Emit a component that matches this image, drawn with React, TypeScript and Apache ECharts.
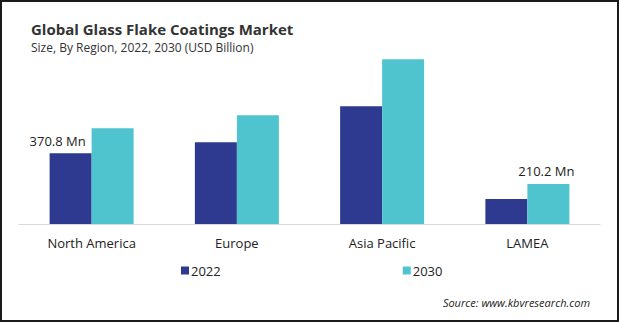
import React, { useEffect, useRef } from "react";
import * as echarts from "echarts";

const categories = ["North America", "Europe", "Asia Pacific", "LAMEA"];
const values2022 = [370.8, 429, 617, 131];
const values2030 = [502, 570, 863, 210.2];
const seriesNames = ["2022", "2030"];
const labelled2022 = [0];
const labelled2030 = [3];

const FONT = "'Open Sans', 'Noto Sans', sans-serif";

export default function App() {
  const ref = useRef<HTMLDivElement>(null);
  useEffect(() => {
    document.body.style.margin = "0";
    const chart = echarts.init(ref.current!, null, { renderer: "svg" });
    const mk = (vals: number[], labelled: number[], offset: number[]) =>
      vals.map((v, i) =>
        labelled.includes(i)
          ? {
              value: v,
              label: {
                show: true,
                position: "top",
                offset,
                formatter: "{c} Mn",
                fontSize: 13,
                color: "#222",
                fontFamily: FONT,
              },
            }
          : v
      );
    chart.setOption({
      animation: false,
      backgroundColor: "#fff",
      title: {
        text: "Global Glass Flake Coatings Market",
        subtext: "Size, By Region, 2022, 2030 (USD Billion)",
        left: 26,
        top: 16,
        itemGap: 5,
        textStyle: { fontSize: 15, fontWeight: "bold", color: "#333", fontFamily: FONT },
        subtextStyle: { fontSize: 12, color: "#333", fontFamily: FONT },
      },
      grid: { left: 19, right: 19, top: 24, bottom: 98, containLabel: false },
      xAxis: {
        type: "category",
        data: categories,
        axisLine: { lineStyle: { color: "#d9d9d9", width: 1 } },
        axisTick: { show: false },
        axisLabel: { fontSize: 13, color: "#222", margin: 12, fontFamily: FONT },
      },
      yAxis: { type: "value", min: 0, max: 1048, show: false, splitLine: { show: false } },
      legend: {
        data: seriesNames,
        left: 176,
        top: 259,
        icon: "rect",
        itemWidth: 8,
        itemHeight: 8,
        itemGap: 182,
        textStyle: { fontSize: 13, color: "#222", fontFamily: FONT, padding: [0, 0, 0, -3] },
      },
      series: [
        {
          name: seriesNames[0],
          type: "bar",
          barWidth: 42,
          barGap: "0%",
          itemStyle: { color: "#2D3A8F" },
          data: mk(values2022, labelled2022, [-13, -1]),
        },
        {
          name: seriesNames[1],
          type: "bar",
          barWidth: 42,
          barGap: "0%",
          itemStyle: { color: "#4FC4CF" },
          data: mk(values2030, labelled2030, [-2, -1]),
        },
      ],
      graphic: [
        {
          type: "text",
          right: 29,
          top: 297,
          style: {
            text: "Source: www.kbvresearch.com",
            font: `italic 11px ${FONT}`,
            fill: "#222",
          },
        },
        {
          type: "rect",
          shape: { x: 1, y: 1, width: 617, height: 320 },
          style: { fill: "none", stroke: "#1a1a1a", lineWidth: 2 },
          silent: true,
        },
      ],
    });
    return () => chart.dispose();
  }, []);
  return <div ref={ref} style={{ width: 619, height: 322 }} />;
}
